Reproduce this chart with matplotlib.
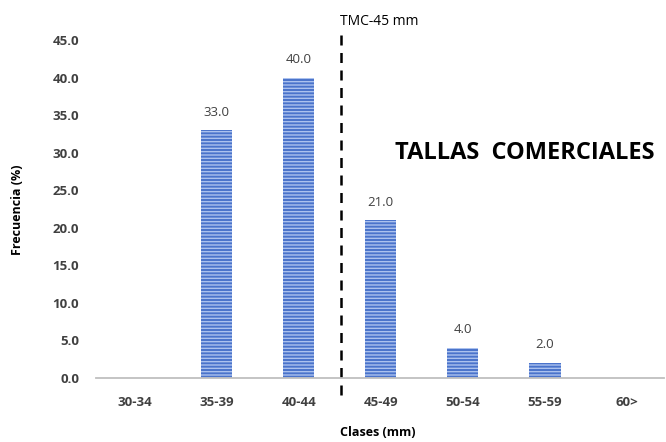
import matplotlib
matplotlib.use("Agg")
import matplotlib.pyplot as plt

plt.rcParams['font.family'] = ['Open Sans', 'DejaVu Sans']
plt.rcParams['hatch.linewidth'] = 1.0

clases = ["30-34", "35-39", "40-44", "45-49", "50-54", "55-59", "60>"]
frecuencia = [0.0, 33.0, 40.0, 21.0, 4.0, 2.0, 0.0]
yticks = [0, 5, 10, 15, 20, 25, 30, 35, 40, 45]
tmc_pos = 2.52

fig = plt.figure(figsize=(6.66, 4.42), dpi=100)
ax = fig.add_axes([0.144, 0.1448, 0.853, 0.7647])

x = list(range(len(clases)))
ax.bar(x, frecuencia, width=0.38, color="#4a73cb", edgecolor="#abc1ee",
       hatch="-----", linewidth=0)

for xi, v in zip(x, frecuencia):
    if v > 0:
        ax.text(xi, v + 2.4, "%.1f" % v, ha="center", va="center", fontsize=9.5, color="#404040")

ax.set_xlim(-0.47, 6.45)
ax.set_ylim(0, 45)
ax.set_xticks(x)
ax.set_xticklabels(clases, fontsize=9.5, fontweight="bold", color="#404040")
ax.set_yticks(yticks)
ax.set_yticklabels(["%.1f" % t for t in yticks], fontsize=9.5, fontweight="bold", color="#404040")
ax.tick_params(axis="x", length=0, pad=13)
ax.tick_params(axis="y", length=0, pad=12)

for s in ["top", "right", "left"]:
    ax.spines[s].set_visible(False)
ax.spines["bottom"].set_color("#bfbfbf")
ax.spines["bottom"].set_linewidth(1.3)

ax.axvline(tmc_pos, ymin=-0.05, ymax=1.036, color="black", linestyle=(0, (4, 3)), linewidth=1.8, clip_on=False)
ax.text(tmc_pos - 0.02, 47.4, "TMC-45 mm", fontsize=10, ha="left", va="center", color="black")
ax.text(3.17, 29.9, "TALLAS  COMERCIALES", fontsize=17, fontweight="bold", color="black",
        ha="left", va="center")

fig.text(18 / 666, 1 - 210 / 442, "Frecuencia (%)", rotation=90, fontsize=9, fontweight="bold",
         color="black", ha="center", va="center")
fig.text(378 / 666, 1 - 432 / 442, "Clases (mm)", fontsize=9, fontweight="bold",
         color="black", ha="center", va="center")

fig.savefig("out.png", dpi=100)
